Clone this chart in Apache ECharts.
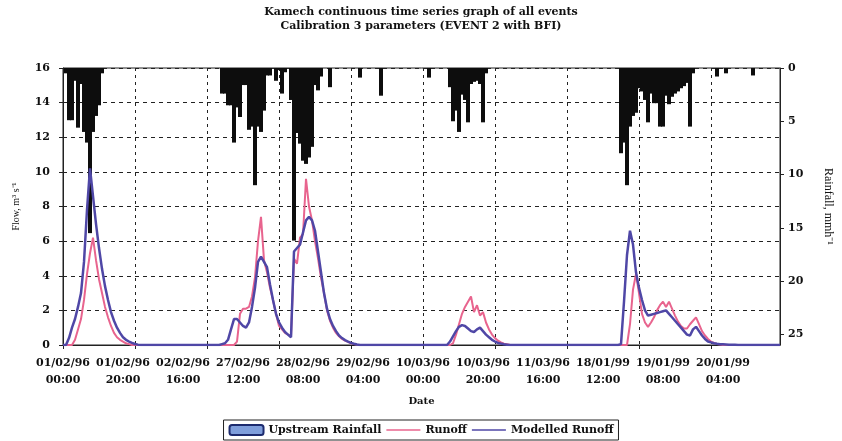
<!DOCTYPE html>
<html>
<head>
<meta charset="utf-8">
<script src="https://cdn.jsdelivr.net/npm/echarts@6/dist/echarts.min.js"></script>
<style>
  html, body { margin: 0; padding: 0; background: #fff; }
  #chart { width: 842px; height: 441px; }
</style>
</head>
<body>
<div id="chart"></div>
<script>
// Hourly records of four storm events, plotted back to back on one axis.
// Event start [year, month, day, hour] and number of hourly steps.
const eventStarts = [[1996, 2, 1, 0], [1996, 2, 27, 0], [1996, 3, 9, 16], [1999, 1, 18, 4]];
const eventHours = [48, 64, 60, 68];

// Upstream rainfall, mm/h
const rainE1 = [
  0, 0.5, 4.9, 4.9, 1.2, 5.6, 1.5, 6.0, 7.0, 15.5, 6.0, 4.5,
  3.5, 0.5, 0, 0, 0, 0, 0, 0, 0, 0, 0, 0,
  0, 0, 0, 0, 0, 0, 0, 0, 0, 0, 0, 0,
  0, 0, 0, 0, 0, 0, 0, 0, 0, 0, 0, 0
];
const rainE2 = [
  0, 0, 0, 0, 0, 2.4, 2.4, 3.5, 3.5, 7.0, 3.7, 4.6,
  1.6, 1.6, 5.8, 5.5, 11.0, 5.5, 6.0, 4.0, 0.7, 0.7, 0, 1.2,
  0.2, 2.4, 0.4, 0, 3.0, 16.2, 6.1, 7.1, 8.7, 9.0, 8.4, 7.4,
  1.6, 2.1, 0.8, 0, 0, 1.8, 0, 0, 0, 0, 0, 0,
  0, 0, 0, 0.9, 0, 0, 0, 0, 0, 0, 2.6, 0,
  0, 0, 0, 0
];
const rainE3 = [
  0, 0, 0, 0, 0, 0, 0, 0, 0, 0, 0.9, 0,
  0, 0, 0, 0, 0, 1.8, 5.0, 4.0, 6.0, 2.5, 3.0, 5.1,
  1.5, 1.3, 1.2, 1.5, 5.1, 0.5, 0, 0, 0, 0, 0, 0,
  0, 0, 0, 0, 0, 0, 0, 0, 0, 0, 0, 0,
  0, 0, 0, 0, 0, 0, 0, 0, 0, 0, 0, 0
];
const rainE4 = [
  0, 0, 0, 0, 0, 0, 0, 0, 0, 0, 0, 0,
  0, 0, 8.0, 7.0, 11.0, 5.5, 4.5, 4.2, 1.9, 2.2, 3.0, 5.1,
  2.4, 3.3, 3.3, 5.5, 5.5, 2.6, 3.4, 2.7, 2.4, 2.2, 1.9, 1.7,
  1.4, 5.5, 0.5, 0, 0, 0, 0, 0, 0, 0, 0.8, 0,
  0, 0.5, 0, 0, 0, 0, 0, 0, 0, 0, 0.7, 0,
  0, 0, 0, 0, 0, 0, 0, 0
];

// Observed runoff, m3/s
const runoffE1 = [
  0, 0, 0, 0, 0.3, 0.9, 1.5, 2.6, 4.1, 5.3, 6.2, 4.9,
  3.8, 3.0, 2.2, 1.6, 1.1, 0.7, 0.45, 0.3, 0.2, 0.1, 0.05, 0,
  0, 0, 0, 0, 0, 0, 0, 0, 0, 0, 0, 0,
  0, 0, 0, 0, 0, 0, 0, 0, 0, 0, 0, 0
];
const runoffE2 = [
  0, 0, 0, 0, 0, 0, 0, 0, 0, 0, 0.2, 1.8,
  2.1, 2.1, 2.2, 2.8, 3.9, 6.0, 7.4, 4.9, 4.2, 3.3, 2.6, 1.8,
  1.1, 0.9, 0.7, 0.6, 0.5, 5.0, 4.7, 6.2, 6.4, 9.6, 8.0, 7.2,
  6.0, 5.0, 3.9, 3.0, 2.0, 1.4, 1.0, 0.7, 0.5, 0.35, 0.25, 0.18,
  0.1, 0.05, 0.02, 0, 0, 0, 0, 0, 0, 0, 0, 0,
  0, 0, 0, 0
];
const runoffE3 = [
  0, 0, 0, 0, 0, 0, 0, 0, 0, 0, 0, 0,
  0, 0, 0, 0, 0, 0, 0.1, 0.6, 1.2, 1.8, 2.2, 2.5,
  2.8, 1.9, 2.3, 1.7, 1.9, 1.3, 0.9, 0.6, 0.4, 0.25, 0.15, 0.08,
  0.04, 0, 0, 0, 0, 0, 0, 0, 0, 0, 0, 0,
  0, 0, 0, 0, 0, 0, 0, 0, 0, 0, 0, 0
];
const runoffE4 = [
  0, 0, 0, 0, 0, 0, 0, 0, 0, 0, 0, 0,
  0, 0, 0, 0, 0, 1.2, 3.2, 4.1, 3.0, 1.8, 1.3, 1.05,
  1.3, 1.6, 2.0, 2.3, 2.5, 2.2, 2.5, 2.1, 1.7, 1.35, 1.1, 0.95,
  0.95, 1.2, 1.4, 1.6, 1.2, 0.8, 0.55, 0.35, 0.2, 0.12, 0.06, 0.03,
  0, 0, 0, 0, 0, 0, 0, 0, 0, 0, 0, 0,
  0, 0, 0, 0, 0, 0, 0, 0
];

// Modelled runoff, m3/s
const modelE1 = [
  0, 0, 0.4, 1.0, 1.5, 2.2, 3.0, 4.8, 7.8, 10.2, 8.6, 7.0,
  5.6, 4.4, 3.4, 2.6, 1.9, 1.4, 1.0, 0.7, 0.45, 0.3, 0.2, 0.12,
  0.06, 0.02, 0, 0, 0, 0, 0, 0, 0, 0, 0, 0,
  0, 0, 0, 0, 0, 0, 0, 0, 0, 0, 0, 0
];
const modelE2 = [
  0, 0, 0, 0, 0, 0.05, 0.1, 0.3, 0.9, 1.5, 1.5, 1.3,
  1.1, 1.0, 1.3, 2.2, 3.3, 4.8, 5.1, 4.8, 4.5, 3.5, 2.6, 1.8,
  1.3, 1.0, 0.75, 0.6, 0.45, 5.4, 5.6, 5.8, 6.5, 7.2, 7.4, 7.2,
  6.6, 5.4, 4.2, 3.0, 2.1, 1.5, 1.1, 0.8, 0.55, 0.4, 0.28, 0.2,
  0.12, 0.07, 0.03, 0, 0, 0, 0, 0, 0, 0, 0, 0,
  0, 0, 0, 0
];
const modelE3 = [
  0, 0, 0, 0, 0, 0, 0, 0, 0, 0, 0, 0,
  0, 0, 0, 0, 0, 0.2, 0.5, 0.8, 1.05, 1.15, 1.1, 0.95,
  0.8, 0.75, 0.9, 1.0, 0.8, 0.6, 0.45, 0.3, 0.2, 0.12, 0.08, 0.04,
  0.02, 0, 0, 0, 0, 0, 0, 0, 0, 0, 0, 0,
  0, 0, 0, 0, 0, 0, 0, 0, 0, 0, 0, 0
];
const modelE4 = [
  0, 0, 0, 0, 0, 0, 0, 0, 0, 0, 0, 0,
  0, 0, 0.05, 2.5, 5.2, 6.6, 5.8, 4.2, 3.3, 2.6, 2.0, 1.7,
  1.75, 1.8, 1.85, 1.9, 1.95, 2.0, 1.8, 1.6, 1.4, 1.2, 1.0, 0.8,
  0.6, 0.55, 0.9, 1.05, 0.8, 0.55, 0.35, 0.2, 0.15, 0.1, 0.07, 0.05,
  0.04, 0.03, 0.02, 0.02, 0.01, 0, 0, 0, 0, 0, 0, 0,
  0, 0, 0, 0, 0, 0, 0, 0
];

const rainfall = [...rainE1, ...rainE2, ...rainE3, ...rainE4];
const runoff = [...runoffE1, ...runoffE2, ...runoffE3, ...runoffE4];
const modelled = [...modelE1, ...modelE2, ...modelE3, ...modelE4];

// Hourly date/time labels for every step of each event
function pad(n) { return String(n).padStart(2, '0'); }
const categories = [];
eventStarts.forEach(function (s, k) {
  const t0 = Date.UTC(s[0], s[1] - 1, s[2], s[3]);
  for (let h = 0; h < eventHours[k]; h++) {
    const d = new Date(t0 + h * 3600000);
    categories.push(pad(d.getUTCDate()) + '/' + pad(d.getUTCMonth() + 1) + '/' +
      pad(d.getUTCFullYear() % 100) + '\n' + pad(d.getUTCHours()) + ':00');
  }
});

const SERIF = "'DejaVu Serif', 'Liberation Serif', serif";
const axisFont = { fontFamily: SERIF, fontWeight: 'bold', fontSize: 11, color: '#111' };
const LINE_ICON = 'path://M0,0 L40,0 L40,2 L0,2 Z';

const chart = echarts.init(document.getElementById('chart'), null, { renderer: 'canvas' });
chart.setOption({
  animation: false,
  backgroundColor: '#fff',
  title: {
    text: 'Kamech continuous time series graph of all events\nCalibration 3 parameters (EVENT 2 with BFI)',
    left: 'center',
    top: 0,
    textStyle: { fontFamily: SERIF, fontWeight: 'bold', fontSize: 11, lineHeight: 14, color: '#111' }
  },
  grid: {
    left: 63, right: 57, top: 68, bottom: 96,
    show: true, borderColor: '#222', borderWidth: 1, backgroundColor: 'transparent'
  },
  legend: {
    bottom: 1,
    left: 'center',
    itemWidth: 34,
    itemHeight: 10,
    itemGap: 5,
    padding: [4, 5],
    borderColor: '#222',
    borderWidth: 1,
    borderRadius: 0,
    textStyle: { fontFamily: SERIF, fontWeight: 'bold', fontSize: 11, color: '#111' },
    data: [
      { name: 'Upstream Rainfall', icon: 'roundRect',
        itemStyle: { color: '#7f9edb', borderColor: '#1c2a6e', borderWidth: 2 } },
      { name: 'Runoff', icon: LINE_ICON, itemStyle: { color: '#e8648e' } },
      { name: 'Modelled Runoff', icon: LINE_ICON, itemStyle: { color: '#4f47a6' } }
    ]
  },
  xAxis: {
    type: 'category',
    data: categories,
    boundaryGap: false,
    name: 'Date',
    nameLocation: 'middle',
    nameGap: 51,
    nameTextStyle: { fontFamily: SERIF, fontWeight: 'bold', fontSize: 10, color: '#111' },
    axisLine: { lineStyle: { color: '#222', width: 1 } },
    axisTick: { interval: 23, length: 4, lineStyle: { color: '#222' } },
    axisLabel: Object.assign({ interval: 19, margin: 10, lineHeight: 17 }, axisFont),
    splitLine: { show: true, interval: 23, lineStyle: { color: '#222', type: [3, 4], width: 1 } }
  },
  yAxis: [
    {
      type: 'value',
      min: 0, max: 16, interval: 2,
      name: 'Flow, m³ s⁻¹',
      nameLocation: 'middle',
      nameGap: 42,
      nameTextStyle: { fontFamily: "'Liberation Serif', serif", fontSize: 10, color: '#111' },
      axisLine: { show: true, lineStyle: { color: '#222' } },
      axisTick: { show: true, length: 4, lineStyle: { color: '#222' } },
      axisLabel: Object.assign({ margin: 13 }, axisFont),
      splitLine: { show: true, lineStyle: { color: '#222', type: [4, 4], width: 1 } }
    },
    {
      type: 'value',
      inverse: true,
      min: 0, max: 26, interval: 5,
      position: 'right',
      name: 'Rainfall, mmh⁻¹',
      nameLocation: 'middle',
      nameRotate: -90,
      nameGap: 42,
      nameTextStyle: { fontFamily: "'Liberation Serif', serif", fontSize: 12, color: '#111' },
      axisLine: { show: true, lineStyle: { color: '#222' } },
      axisTick: { show: true, length: 4, lineStyle: { color: '#222' } },
      axisLabel: Object.assign({ margin: 8, showMaxLabel: false }, axisFont),
      splitLine: { show: false }
    }
  ],
  series: [
    {
      name: 'Upstream Rainfall',
      type: 'bar',
      yAxisIndex: 1,
      data: rainfall,
      barWidth: 4,
      itemStyle: { color: '#0d0d0d' },
      z: 2
    },
    {
      name: 'Runoff',
      type: 'line',
      yAxisIndex: 0,
      data: runoff,
      symbol: 'none',
      lineStyle: { color: '#e8648e', width: 2 },
      itemStyle: { color: '#e8648e' },
      z: 3
    },
    {
      name: 'Modelled Runoff',
      type: 'line',
      yAxisIndex: 0,
      data: modelled,
      symbol: 'none',
      lineStyle: { color: '#4f47a6', width: 2.5 },
      itemStyle: { color: '#4f47a6' },
      z: 4
    }
  ]
});
</script>
</body>
</html>
